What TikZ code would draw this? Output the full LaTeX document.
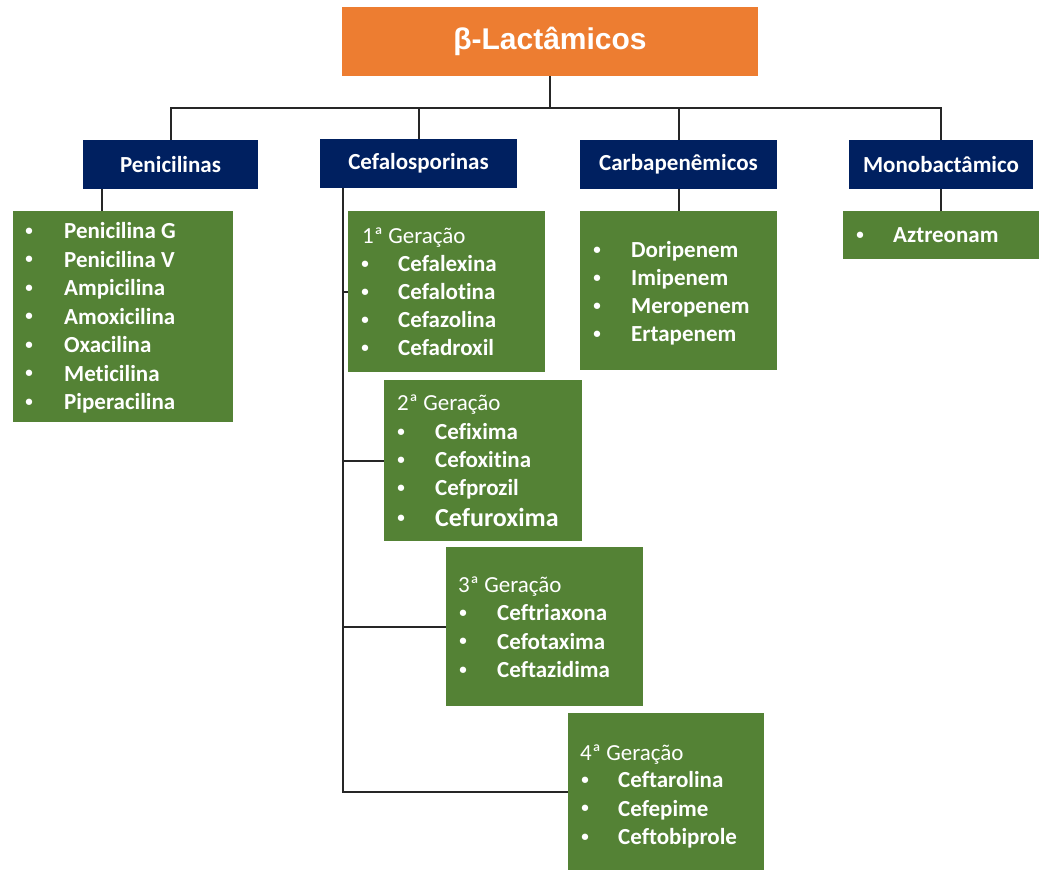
\documentclass[tikz,border=0pt]{standalone}
\usepackage{fontspec}
\newfontfamily\calfont[Ligatures=NoCommon]{Carlito}
\newfontfamily\arialfont{Liberation Sans}
\definecolor{navy}{RGB}{0,32,96}
\definecolor{leaf}{RGB}{84,130,53}
\definecolor{tangerine}{RGB}{237,125,49}
\definecolor{wire}{RGB}{38,38,38}
\tikzset{
  titlebox/.style={fill=tangerine, draw=none, minimum width=416pt, minimum height=69pt, inner sep=0pt,
    text=white, font=\arialfont\bfseries\fontsize{30}{36}\selectfont},
  headbox/.style={fill=navy, draw=none, minimum height=49pt, inner sep=0pt,
    text=white, font=\calfont\bfseries\fontsize{23}{28}\selectfont},
  listbox/.style={fill=leaf, draw=none, inner sep=0pt},
  item/.style={anchor=base west, inner sep=0pt, text=white, font=\calfont\bfseries\fontsize{23}{28}\selectfont},
  bigitem/.style={item, font=\calfont\bfseries\fontsize{26}{31}\selectfont},
  gen/.style={anchor=base west, inner sep=0pt, text=white, font=\calfont\fontsize{23}{28}\selectfont},
  dot/.style={anchor=base, inner sep=0pt, text=white, font=\calfont\bfseries\fontsize{15}{18}\selectfont},
  wireline/.style={draw=wire, line width=2pt},
}
\begin{document}
\begin{tikzpicture}[x=1pt,y=-1pt]
\useasboundingbox (0,0) rectangle (1039,872);
% boxes
\node[titlebox] (title) at (550,41.5) {β-Lactâmicos};
\node[headbox, minimum width=175pt] (pen) at (170.5,164.5) {Penicilinas};
\node[headbox, minimum width=197pt] (cef) at (418.5,163.5) {Cefalosporinas};
\node[headbox, minimum width=197pt] (car) at (678.5,164.5) {Carbapenêmicos};
\node[headbox, minimum width=184pt] (mon) at (941,164.5) {Monobactâmico};

\node[listbox, minimum width=220pt, minimum height=211pt] (penl) at (123,316.5) {};
\node[listbox, minimum width=197pt, minimum height=161pt] (g1) at (446.5,291.5) {};
\node[listbox, minimum width=198pt, minimum height=161pt] (g2) at (483,460.5) {};
\node[listbox, minimum width=197pt, minimum height=159pt] (g3) at (544.5,626.5) {};
\node[listbox, minimum width=196pt, minimum height=157pt] (g4) at (666,791.5) {};
\node[listbox, minimum width=197pt, minimum height=159pt] (carl) at (678.5,290.5) {};
\node[listbox, minimum width=196pt, minimum height=48pt] (monl) at (941,235) {};

% connectors
\coordinate (bus) at (550,108);
\draw[wireline] (title.south) -- (bus);
\draw[wireline] (pen.north) |- (bus) -| (mon.north);
\draw[wireline] (cef.north) -- (cef.north |- bus);
\draw[wireline] (car.north) -- (car.north |- bus);
\coordinate (penstem) at ([xshift=19pt]pen.south west);
\draw[wireline] (penstem) -- (penstem |- penl.north);
\draw[wireline] (car.south) -- (carl.north);
\draw[wireline] (monl.north) -- (monl.north |- mon.south);
\coordinate (cefstem) at ([xshift=23pt]cef.south west);
\draw[wireline] (cefstem) |- (g4.west);
\draw[wireline] (cefstem |- g1.west) -- (g1.west);
\draw[wireline] (cefstem |- g2.west) -- (g2.west);
\draw[wireline] (cefstem |- g3.west) -- (g3.west);

% Penicilinas list
\foreach \t [count=\i] in {Penicilina G, Penicilina V, Ampicilina, Amoxicilina, Oxacilina, Meticilina, Piperacilina}{
  \node[dot] (pb\i) at (29,{231+28.5*(\i-1)+4}) {•};
  \node[item] (pt\i) at (64,{231+28.5*(\i-1)+7.5}) {\t};
}
% Carbapenemicos list
\foreach \t [count=\i] in {Doripenem, Imipenem, Meropenem, Ertapenem}{
  \node[dot] (cb\i) at (597,{250+28*(\i-1)+4}) {•};
  \node[item] (ct\i) at (631,{250+28*(\i-1)+7.5}) {\t};
}
% Monobactamico
\node[dot] (mb1) at (860,239) {•};
\node[item] (mt1) at (893,242.5) {Aztreonam};

% 1a geracao
\node[gen] (h1) at (362,243.5) {1ª Geração};
\foreach \t [count=\i] in {Cefalexina, Cefalotina, Cefazolina, Cefadroxil}{
  \node[dot] (ab\i) at (365,{264+28*(\i-1)+4}) {•};
  \node[item] (at\i) at (398,{264+28*(\i-1)+7.5}) {\t};
}
% 2a geracao
\node[gen] (h2) at (397,410.5) {2ª Geração};
\foreach \t [count=\i] in {Cefixima, Cefoxitina, Cefprozil}{
  \node[dot] (bb\i) at (401,{432+28*(\i-1)+4}) {•};
  \node[item] (bt\i) at (435,{432+28*(\i-1)+7.5}) {\t};
}
\node[dot] (bb4) at (401,522) {•};
\node[bigitem] (bt4) at (435,526.5) {Cefuroxima};
% 3a geracao
\node[gen] (h3) at (458,592.5) {3ª Geração};
\foreach \t [count=\i] in {Ceftriaxona, Cefotaxima, Ceftazidima}{
  \node[dot] (eb\i) at (463,{613+28.5*(\i-1)+4}) {•};
  \node[item] (et\i) at (497,{613+28.5*(\i-1)+7.5}) {\t};
}
% 4a geracao
\node[gen] (h4) at (580,760.5) {4ª Geração};
\foreach \t [count=\i] in {Ceftarolina, Cefepime, Ceftobiprole}{
  \node[dot] (fb\i) at (585,{780+28.5*(\i-1)+4}) {•};
  \node[item] (ft\i) at (618,{780+28.5*(\i-1)+7.5}) {\t};
}
\end{tikzpicture}
\end{document}
